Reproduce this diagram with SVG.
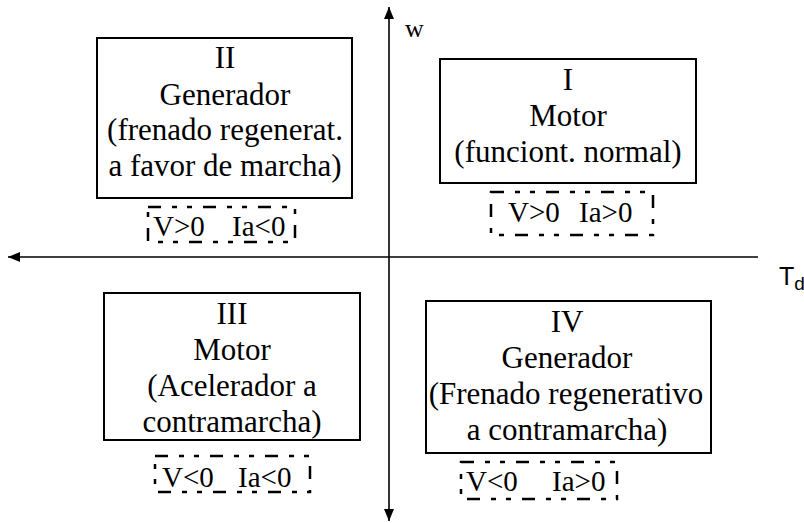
<svg xmlns="http://www.w3.org/2000/svg" width="804" height="523" viewBox="0 0 804 523">
<defs>
<marker id="ah" viewBox="0 0 12 10" refX="12" refY="5" markerWidth="12" markerHeight="10" markerUnits="userSpaceOnUse" orient="auto-start-reverse"><path d="M0,0 L12,5 L0,10 z" fill="#000"/></marker>
</defs>
<style>
.box{fill:#fff;stroke:#000;stroke-width:2}
.dash{fill:none;stroke:#000;stroke-width:2.5;stroke-dasharray:13 11 5 10 5 11}
.t{font-family:"Liberation Serif","Times New Roman",serif;font-size:31px;text-anchor:middle;fill:#000}
.c{font-family:"Liberation Serif","Times New Roman",serif;font-size:29px;fill:#000}
.ax{stroke:#000;stroke-width:1.6;fill:none}
.lab{font-family:"Liberation Serif","Times New Roman",serif;font-size:26px;fill:#000}
.td{font-family:"Liberation Sans",Arial,sans-serif;fill:#000}
</style>
<rect width="804" height="523" fill="#fff"/>
<g id="axes">
<line class="ax" x1="758" y1="257" x2="8" y2="257" marker-end="url(#ah)"/>
<line class="ax" x1="389" y1="7" x2="389" y2="521" marker-start="url(#ah)" marker-end="url(#ah)"/>
<text class="lab" x="405" y="37">w</text>
<text class="td" x="779" y="285" font-size="25">T<tspan font-size="19" y="290">d</tspan></text>
</g>
<g id="q2">
<rect class="box" x="97" y="38" width="255" height="160"/>
<text class="t" x="225" y="68">II</text>
<text class="t" x="225" y="104.5">Generador</text>
<text class="t" x="225" y="140">(frenado regenerat.</text>
<text class="t" x="225" y="175.5">a favor de marcha)</text>
</g>
<g id="c2">
<rect class="dash" x="148" y="207" width="147" height="35"/>
<text class="c" y="236"><tspan x="153">V&gt;0</tspan><tspan x="232">Ia&lt;0</tspan></text>
</g>
<g id="q1">
<rect class="box" x="440" y="59" width="256" height="124"/>
<text class="t" x="568" y="90">I</text>
<text class="t" x="568" y="126">Motor</text>
<text class="t" x="568" y="162">(funciont. normal)</text>
</g>
<g id="c1">
<rect class="dash" x="491" y="192" width="162" height="43"/>
<text class="c" y="222"><tspan x="508">V&gt;0</tspan><tspan x="579">Ia&gt;0</tspan></text>
</g>
<g id="q3">
<rect class="box" x="104" y="293" width="256" height="147"/>
<text class="t" x="232" y="324">III</text>
<text class="t" x="232" y="360">Motor</text>
<text class="t" x="232" y="396">(Acelerador a</text>
<text class="t" x="232" y="432">contramarcha)</text>
</g>
<g id="c3">
<rect class="dash" x="155" y="456" width="155" height="36"/>
<text class="c" y="487"><tspan x="162">V&lt;0</tspan><tspan x="238">Ia&lt;0</tspan></text>
</g>
<g id="q4">
<rect class="box" x="426" y="301" width="285" height="152"/>
<text class="t" x="567" y="332">IV</text>
<text class="t" x="567" y="368">Generador</text>
<text class="t" x="566" y="404">(Frenado regenerativo</text>
<text class="t" x="567" y="440">a contramarcha)</text>
</g>
<g id="c4">
<rect class="dash" x="461" y="462" width="156" height="37"/>
<text class="c" y="491"><tspan x="466">V&lt;0</tspan><tspan x="552">Ia&gt;0</tspan></text>
</g>
</svg>
